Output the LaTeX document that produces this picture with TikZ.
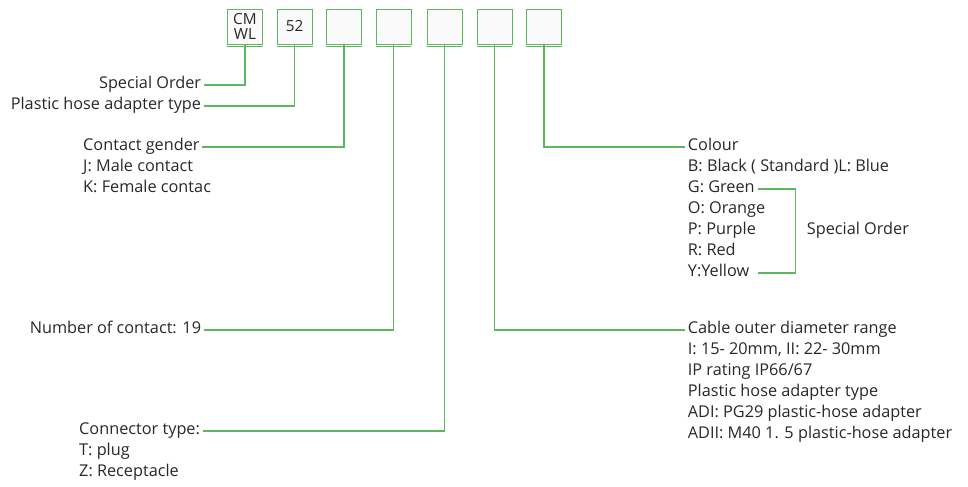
\documentclass[tikz,border=0pt]{standalone}
\usepackage{fontspec}
\setmainfont{Open Sans}
\usepackage{tikz}
\usetikzlibrary{calc}
\definecolor{leadgreen}{RGB}{92,184,92}
\definecolor{txtgray}{RGB}{40,40,40}
\definecolor{boxgray}{RGB}{250,250,250}

\tikzset{
  lbl/.style={font=\fontsize{12.2}{14}\selectfont, text=txtgray,
              inner xsep=2pt, inner ysep=0pt,
              text height=0.75em, text depth=0.25em},
  codebox/.style={draw=leadgreen, fill=boxgray, minimum width=26.3pt,
                  minimum height=26.3pt, inner sep=0pt, align=center,
                  font=\fontsize{11.5}{11.5}\selectfont, text=txtgray},
  lead/.style={draw=leadgreen, line width=0.8pt}
}

\begin{document}
\begin{tikzpicture}[x=0.75pt, y=-0.75pt]
  \useasboundingbox (0,0) rectangle (968,486);

  % Code boxes
  \foreach \n/\x/\t in {1/245/{CM\\WL},2/294.7/52,3/344/{},4/393.5/{},
                        5/444.5/{},6/494.3/{},7/544/{}}{
    \node[codebox] (b\n) at (\x,26.5) {\t};
    \draw[lead] ([yshift=-1.5pt]b\n.south west) -- ([yshift=-1.5pt]b\n.south east);
  }

  % Left labels
  \node[lbl, anchor=east] (sporder) at (204,85) {Special Order};
  \node[lbl, anchor=east] (hose) at (204,106) {Plastic hose adapter type};
  \node[lbl, anchor=west] (gender) at (80.3,147) {Contact gender};
  \foreach \t [count=\i] in {J: Male contact, K: Female contac}
    \node[lbl, anchor=west] (gender\i) at (80.3,147+21*\i) {\t};
  \node[lbl, anchor=east] (numc) at (204,330) {Number of contact: 19};
  \node[lbl, anchor=west] (ctype) at (76.3,431) {Connector type:};
  \foreach \t [count=\i] in {T: plug, Z: Receptacle}
    \node[lbl, anchor=west] (ctype\i) at (76.3,431+21*\i) {\t};

  % Right labels
  \node[lbl, anchor=west] (colour) at (685,147) {Colour};
  \foreach \t [count=\i] in {B: Black ( Standard )L: Blue, G: Green, O: Orange,
                             P: Purple, R: Red, Y:Yellow}
    \node[lbl, anchor=west] (col\i) at (685,147+21*\i) {\t};
  \node[lbl, anchor=west] (colso) at (804,231) {Special Order};
  \node[lbl, anchor=west] (cable) at (685,330) {Cable outer diameter range};
  \foreach \t [count=\i] in {{I: 15- 20mm, II: 22- 30mm}, IP rating IP66/67,
                             Plastic hose adapter type,
                             ADI: PG29 plastic-hose adapter,
                             ADII: M40 1. 5 plastic-hose adapter}
    \node[lbl, anchor=west] (cable\i) at (685,330+21*\i) {\t};

  % Leader lines
  \draw[lead] (b1.south) |- (sporder.east);
  \draw[lead] (b2.south) |- (hose.east);
  \draw[lead] (b3.south) |- (gender.east);
  \draw[lead] (b4.south) |- (numc.east);
  \draw[lead] (b5.south) |- (ctype.east);
  \draw[lead] (b6.south) |- (cable.west);
  \draw[lead] (b7.south) |- (colour.west);
  % Special order bracket
  \draw[lead] (col2.east) -- ++(38,0) |- (col2.east |- col6.east);
\end{tikzpicture}
\end{document}
